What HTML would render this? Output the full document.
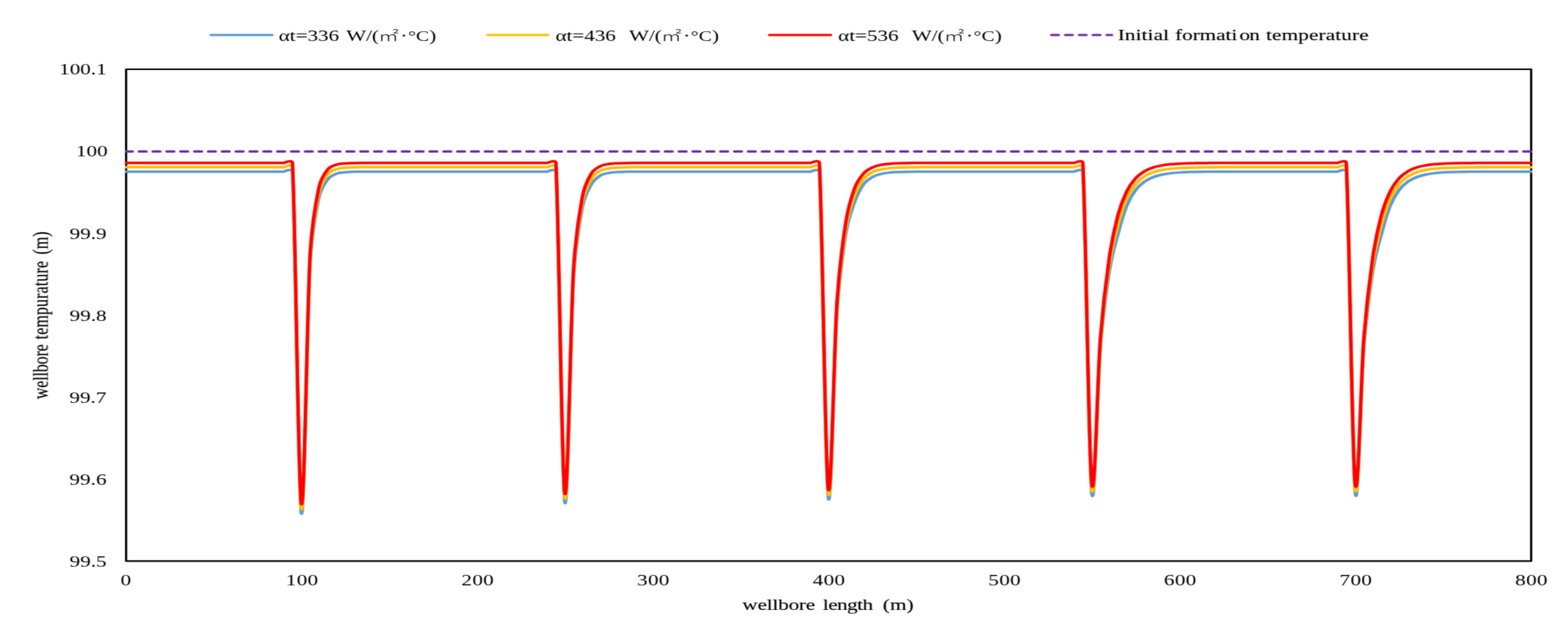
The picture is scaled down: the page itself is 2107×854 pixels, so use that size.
<!DOCTYPE html>
<html lang="en"><head><meta charset="utf-8"><title>Wellbore temperature chart</title>
<style>html,body{margin:0;padding:0;background:#fff;}body{width:2107px;height:854px;overflow:hidden;}svg{display:block;}text{font-family:"Liberation Serif","Noto Sans CJK SC",serif;font-size:21.33px;fill:#000000;stroke:#000000;stroke-width:0.15px;}.cjk{font-family:"Noto Sans CJK SC","Liberation Serif",sans-serif;font-weight:300;stroke:none;}.tick{stroke:none;}</style></head><body>
<svg width="2107" height="854" viewBox="0 0 2107 854">
<defs><filter id="soft" x="0" y="0" width="2107" height="854" filterUnits="userSpaceOnUse" color-interpolation-filters="sRGB"><feConvolveMatrix order="3" kernelMatrix="0.0240 0.0720 0.0240 0.1520 0.4560 0.1520 0.0240 0.0720 0.0240" divisor="1" edgeMode="duplicate" preserveAlpha="false"/></filter></defs>
<rect x="0" y="0" width="2107" height="854" fill="#ffffff"/>
<g filter="url(#soft)">
<g transform="scale(1.3350 1)">
<rect x="126.93" y="93.00" width="1414.27" height="660.45" fill="none" stroke="#000" stroke-width="2.20" stroke-linejoin="round"/>
<g fill="none" stroke-linejoin="round" stroke-linecap="butt" stroke-width="3.50">
<path stroke="#5B9BD5" d="M125.83 230.40 L126.48 230.40L135.32 230.40L144.16 230.40L153.00 230.40L161.84 230.40L170.68 230.40L179.51 230.40L188.35 230.40L197.19 230.40L206.03 230.40L214.87 230.40L223.71 230.40L232.55 230.40L241.39 230.40L250.23 230.40L259.07 230.40L267.91 230.40L276.75 230.40L285.58 230.40C285.58 230.40 294.23 225.28 294.42 230.40C297.37 306.79 300.32 668.13 303.26 688.72C306.21 709.31 309.16 424.48 312.10 353.92C313.96 309.46 318.00 284.15 320.94 265.36C322.94 252.63 326.83 246.51 329.78 241.17C332.64 235.99 335.67 234.97 338.62 233.30C341.57 231.64 344.51 231.63 347.46 231.18C350.41 230.73 353.35 230.73 356.30 230.61C359.24 230.49 362.19 230.49 365.14 230.46C368.08 230.42 371.03 230.42 373.98 230.42C376.92 230.41 379.87 230.41 382.82 230.40L391.65 230.40L400.49 230.40L409.33 230.40L418.17 230.40L427.01 230.40L435.85 230.40L444.69 230.40L453.53 230.40L462.37 230.40L471.21 230.40L480.05 230.40L488.89 230.40L497.73 230.40L506.56 230.40L515.40 230.40L524.24 230.40L533.08 230.40L541.92 230.40L550.76 230.40C550.76 230.40 559.40 225.28 559.60 230.40C562.55 304.33 565.49 650.22 568.44 673.99C571.39 697.77 574.33 438.94 577.28 373.03C579.40 325.63 583.17 299.38 586.12 278.55C588.34 262.85 592.01 255.17 594.96 248.10C597.82 241.21 600.85 238.73 603.80 236.09C606.74 233.45 609.69 233.08 612.63 232.23C615.58 231.38 618.53 231.26 621.47 230.99C624.42 230.71 627.37 230.68 630.31 230.59C633.26 230.50 636.21 230.49 639.15 230.46C642.10 230.43 645.04 230.43 647.99 230.42C650.94 230.41 653.88 230.41 656.83 230.41L665.67 230.40L674.51 230.40L683.35 230.40L692.19 230.40L701.03 230.40L709.87 230.40L718.70 230.40L727.54 230.40L736.38 230.40L745.22 230.40L754.06 230.40L762.90 230.40L771.74 230.40L780.58 230.40L789.42 230.40L798.26 230.40L807.10 230.40L815.94 230.40C815.94 230.40 824.57 225.28 824.78 230.40C827.72 303.28 830.67 636.51 833.61 667.69C836.56 698.87 839.51 476.37 842.45 417.50C845.04 365.85 848.35 338.79 851.29 314.46C853.93 292.69 857.19 282.58 860.13 271.50C863.08 260.42 866.02 253.58 868.97 247.99C871.92 242.39 874.86 240.32 877.81 237.92C880.76 235.53 883.70 234.64 886.65 233.62C889.60 232.60 892.54 232.22 895.49 231.78C898.43 231.34 901.38 231.18 904.33 230.99C907.27 230.80 910.22 230.73 913.17 230.65C916.11 230.57 919.06 230.54 922.01 230.51C924.95 230.47 927.90 230.46 930.85 230.45C933.79 230.43 936.74 230.43 939.68 230.42C942.63 230.41 945.58 230.41 948.52 230.41L957.36 230.40L966.20 230.40L975.04 230.40L983.88 230.40L992.72 230.40L1001.56 230.40L1010.40 230.40L1019.24 230.40L1028.08 230.40L1036.92 230.40L1045.75 230.40L1054.59 230.40L1063.43 230.40L1072.27 230.40L1081.11 230.40C1081.11 230.40 1089.74 225.28 1089.95 230.40C1092.90 302.09 1095.84 621.39 1098.79 660.53C1101.74 699.67 1104.68 514.50 1107.63 465.25C1110.58 416.00 1113.52 390.18 1116.47 365.04C1119.41 339.90 1122.36 329.21 1125.31 314.41C1128.25 299.62 1131.20 286.10 1134.15 276.27C1137.09 266.44 1140.04 260.81 1142.99 255.45C1145.93 250.08 1148.88 247.00 1151.82 244.07C1154.77 241.14 1157.72 239.47 1160.66 237.87C1163.61 236.27 1166.56 235.35 1169.50 234.48C1172.45 233.60 1175.40 233.10 1178.34 232.63C1181.29 232.15 1184.24 231.88 1187.18 231.62C1190.13 231.35 1193.07 231.21 1196.02 231.06C1198.97 230.92 1201.91 230.84 1204.86 230.76C1207.81 230.68 1210.75 230.64 1213.70 230.60C1216.65 230.56 1219.59 230.53 1222.54 230.51C1225.48 230.48 1228.43 230.47 1231.38 230.46C1234.32 230.45 1237.27 230.44 1240.22 230.43C1243.16 230.43 1246.11 230.42 1249.06 230.42C1252.00 230.41 1254.95 230.41 1257.90 230.41L1266.73 230.41L1275.57 230.40L1284.41 230.40L1293.25 230.40L1302.09 230.40L1310.93 230.40L1319.77 230.40L1328.61 230.40L1337.45 230.40L1346.29 230.40C1346.29 230.40 1354.92 225.28 1355.13 230.40C1358.07 302.05 1361.02 621.21 1363.97 660.33C1366.91 699.45 1369.86 514.37 1372.80 465.14C1375.75 415.91 1378.70 390.10 1381.64 364.98C1384.59 339.85 1387.54 329.16 1390.48 314.37C1393.43 299.59 1396.38 286.07 1399.32 276.25C1402.27 266.43 1405.21 260.80 1408.16 255.43C1411.11 250.07 1414.05 247.00 1417.00 244.07C1419.95 241.14 1422.89 239.46 1425.84 237.86C1428.79 236.26 1431.73 235.35 1434.68 234.47C1437.63 233.60 1440.57 233.10 1443.52 232.62C1446.46 232.15 1449.41 231.87 1452.36 231.61C1455.30 231.35 1458.25 231.21 1461.20 231.06C1464.14 230.92 1467.09 230.84 1470.04 230.76C1472.98 230.68 1475.93 230.64 1478.87 230.60C1481.82 230.56 1484.77 230.53 1487.71 230.51C1490.66 230.48 1493.61 230.47 1496.55 230.46C1499.50 230.45 1502.45 230.44 1505.39 230.43C1508.34 230.43 1511.29 230.42 1514.23 230.42C1517.18 230.41 1520.12 230.41 1523.07 230.41L1531.91 230.41L1540.75 230.40L1542.30 230.40"/>
<path stroke="#FFC000" d="M125.83 224.55 L126.48 224.55L135.32 224.55L144.16 224.55L153.00 224.55L161.84 224.55L170.68 224.55L179.51 224.55L188.35 224.55L197.19 224.55L206.03 224.55L214.87 224.55L223.71 224.55L232.55 224.55L241.39 224.55L250.23 224.55L259.07 224.55L267.91 224.55L276.75 224.55L285.58 224.55C285.58 224.55 294.23 219.43 294.42 224.55C297.37 300.90 300.32 662.04 303.26 682.62C306.21 703.20 309.16 418.67 312.10 348.01C313.97 303.15 318.00 277.59 320.94 258.65C322.93 245.91 326.83 239.66 329.78 234.41C332.57 229.44 335.67 228.73 338.62 227.21C341.57 225.68 344.51 225.68 347.46 225.27C350.41 224.86 353.35 224.85 356.30 224.74C359.24 224.63 362.19 224.63 365.14 224.60C368.08 224.57 371.03 224.57 373.98 224.56C376.92 224.56 379.87 224.56 382.82 224.55L391.65 224.55L400.49 224.55L409.33 224.55L418.17 224.55L427.01 224.55L435.85 224.55L444.69 224.55L453.53 224.55L462.37 224.55L471.21 224.55L480.05 224.55L488.89 224.55L497.73 224.55L506.56 224.55L515.40 224.55L524.24 224.55L533.08 224.55L541.92 224.55L550.76 224.55C550.76 224.55 559.40 219.43 559.60 224.55C562.55 298.44 565.49 644.14 568.44 667.89C571.39 691.65 574.33 433.16 577.28 367.10C579.42 319.16 583.17 292.59 586.12 271.53C588.34 255.68 592.01 247.72 594.96 240.76C597.71 234.26 600.85 232.19 603.80 229.76C606.74 227.34 609.69 227.00 612.63 226.23C615.58 225.45 618.53 225.34 621.47 225.09C624.42 224.84 627.37 224.80 630.31 224.72C633.26 224.64 636.21 224.63 639.15 224.61C642.10 224.58 645.04 224.58 647.99 224.57C650.94 224.56 653.88 224.56 656.83 224.56L665.67 224.55L674.51 224.55L683.35 224.55L692.19 224.55L701.03 224.55L709.87 224.55L718.70 224.55L727.54 224.55L736.38 224.55L745.22 224.55L754.06 224.55L762.90 224.55L771.74 224.55L780.58 224.55L789.42 224.55L798.26 224.55L807.10 224.55L815.94 224.55C815.94 224.55 824.57 219.43 824.78 224.55C827.72 297.42 830.67 630.60 833.61 661.78C836.56 692.96 839.51 470.83 842.45 411.63C845.07 358.99 848.35 331.50 851.29 306.60C853.95 284.13 857.19 273.21 860.13 262.22C863.08 251.24 866.02 245.80 868.97 240.67C871.92 235.54 874.86 233.64 877.81 231.45C880.76 229.25 883.70 228.44 886.65 227.50C889.60 226.56 892.54 226.21 895.49 225.81C898.43 225.41 901.38 225.26 904.33 225.09C907.27 224.92 910.22 224.85 913.17 224.78C916.11 224.71 919.06 224.68 922.01 224.65C924.95 224.62 927.90 224.61 930.85 224.59C933.79 224.58 936.74 224.57 939.68 224.57C942.63 224.56 945.58 224.56 948.52 224.56L957.36 224.55L966.20 224.55L975.04 224.55L983.88 224.55L992.72 224.55L1001.56 224.55L1010.40 224.55L1019.24 224.55L1028.08 224.55L1036.92 224.55L1045.75 224.55L1054.59 224.55L1063.43 224.55L1072.27 224.55L1081.11 224.55C1081.11 224.55 1089.74 219.43 1089.95 224.55C1092.90 296.19 1095.84 615.30 1098.79 654.42C1101.74 693.53 1104.68 509.01 1107.63 459.25C1110.58 409.50 1113.52 382.19 1116.47 355.90C1119.41 329.61 1122.36 316.40 1125.31 301.51C1128.25 286.63 1131.20 275.58 1134.15 266.57C1137.09 257.57 1140.04 252.41 1142.99 247.49C1145.93 242.58 1148.88 239.76 1151.82 237.08C1154.77 234.39 1157.72 232.86 1160.66 231.39C1163.61 229.92 1166.56 229.08 1169.50 228.28C1172.45 227.48 1175.40 227.03 1178.34 226.59C1181.29 226.15 1184.24 225.90 1187.18 225.66C1190.13 225.42 1193.07 225.29 1196.02 225.16C1198.97 225.03 1201.91 224.95 1204.86 224.88C1207.81 224.81 1210.75 224.77 1213.70 224.73C1216.65 224.69 1219.59 224.67 1222.54 224.65C1225.48 224.63 1228.43 224.62 1231.38 224.60C1234.32 224.59 1237.27 224.59 1240.22 224.58C1243.16 224.57 1246.11 224.57 1249.06 224.57C1252.00 224.56 1254.95 224.56 1257.90 224.56L1266.73 224.55L1275.57 224.55L1284.41 224.55L1293.25 224.55L1302.09 224.55L1310.93 224.55L1319.77 224.55L1328.61 224.55L1337.45 224.55L1346.29 224.55C1346.29 224.55 1354.92 219.43 1355.13 224.55C1358.07 296.19 1361.02 615.30 1363.97 654.42C1366.91 693.53 1369.86 509.01 1372.80 459.25C1375.75 409.50 1378.70 382.19 1381.64 355.90C1384.59 329.61 1387.54 316.40 1390.48 301.51C1393.43 286.63 1396.38 275.58 1399.32 266.57C1402.27 257.57 1405.21 252.41 1408.16 247.49C1411.11 242.58 1414.05 239.76 1417.00 237.08C1419.95 234.39 1422.89 232.86 1425.84 231.39C1428.79 229.92 1431.73 229.08 1434.68 228.28C1437.63 227.48 1440.57 227.03 1443.52 226.59C1446.46 226.15 1449.41 225.90 1452.36 225.66C1455.30 225.42 1458.25 225.29 1461.20 225.16C1464.14 225.03 1467.09 224.95 1470.04 224.88C1472.98 224.81 1475.93 224.77 1478.87 224.73C1481.82 224.69 1484.77 224.67 1487.71 224.65C1490.66 224.63 1493.61 224.62 1496.55 224.60C1499.50 224.59 1502.45 224.59 1505.39 224.58C1508.34 224.57 1511.29 224.57 1514.23 224.57C1517.18 224.56 1520.12 224.56 1523.07 224.56L1531.91 224.55L1540.75 224.55L1542.30 224.55"/>
<path stroke="#FF0000" d="M125.83 218.75 L126.48 218.75L135.32 218.75L144.16 218.75L153.00 218.75L161.84 218.75L170.68 218.75L179.51 218.75L188.35 218.75L197.19 218.75L206.03 218.75L214.87 218.75L223.71 218.75L232.55 218.75L241.39 218.75L250.23 218.75L259.07 218.75L267.91 218.75L276.75 218.75L285.58 218.75C285.58 218.75 294.23 213.63 294.42 218.75C297.37 294.96 300.32 655.48 303.26 676.02C306.21 696.56 309.16 412.67 312.10 341.99C313.99 296.80 318.00 271.01 320.94 251.96C322.92 239.20 326.83 232.84 329.78 227.70C332.52 222.93 335.67 222.55 338.62 221.16C341.57 219.78 344.51 219.77 347.46 219.40C350.41 219.03 353.35 219.03 356.30 218.93C359.24 218.82 362.19 218.82 365.14 218.80C368.08 218.77 371.03 218.77 373.98 218.76C376.92 218.76 379.87 218.76 382.82 218.75L391.65 218.75L400.49 218.75L409.33 218.75L418.17 218.75L427.01 218.75L435.85 218.75L444.69 218.75L453.53 218.75L462.37 218.75L471.21 218.75L480.05 218.75L488.89 218.75L497.73 218.75L506.56 218.75L515.40 218.75L524.24 218.75L533.08 218.75L541.92 218.75L550.76 218.75C550.76 218.75 559.40 213.63 559.60 218.75C562.55 292.59 565.49 638.05 568.44 661.79C571.39 685.54 574.33 427.41 577.28 361.20C579.44 312.73 583.17 285.84 586.12 264.55C588.33 248.55 592.01 240.32 594.96 233.48C597.59 227.35 600.85 225.69 603.80 223.49C606.74 221.28 609.69 220.98 612.63 220.27C615.58 219.56 618.53 219.47 621.47 219.24C624.42 219.01 627.37 218.98 630.31 218.91C633.26 218.83 636.21 218.82 639.15 218.80C642.10 218.78 645.04 218.77 647.99 218.77C650.94 218.76 653.88 218.76 656.83 218.76L665.67 218.75L674.51 218.75L683.35 218.75L692.19 218.75L701.03 218.75L709.87 218.75L718.70 218.75L727.54 218.75L736.38 218.75L745.22 218.75L754.06 218.75L762.90 218.75L771.74 218.75L780.58 218.75L789.42 218.75L798.26 218.75L807.10 218.75L815.94 218.75C815.94 218.75 824.57 213.63 824.78 218.75C827.72 291.51 830.67 624.15 833.61 655.28C836.56 686.41 839.51 464.96 842.45 405.53C845.11 351.98 848.35 324.10 851.29 298.67C853.97 275.54 857.19 263.82 860.13 252.94C862.94 242.58 866.02 238.04 868.97 233.38C871.92 228.72 874.86 227.00 877.81 225.01C880.76 223.02 883.70 222.28 886.65 221.43C889.60 220.58 892.54 220.26 895.49 219.90C898.43 219.53 901.38 219.40 904.33 219.24C907.27 219.08 910.22 219.03 913.17 218.96C916.11 218.89 919.06 218.87 922.01 218.84C924.95 218.81 927.90 218.80 930.85 218.79C933.79 218.78 936.74 218.77 939.68 218.77C942.63 218.76 945.58 218.76 948.52 218.76L957.36 218.75L966.20 218.75L975.04 218.75L983.88 218.75L992.72 218.75L1001.56 218.75L1010.40 218.75L1019.24 218.75L1028.08 218.75L1036.92 218.75L1045.75 218.75L1054.59 218.75L1063.43 218.75L1072.27 218.75L1081.11 218.75C1081.11 218.75 1089.74 213.63 1089.95 218.75C1092.90 290.31 1095.84 609.04 1098.79 648.11C1101.74 687.18 1104.68 503.40 1107.63 453.18C1110.58 402.95 1113.52 374.17 1116.47 346.75C1119.41 319.32 1122.36 303.61 1125.31 288.64C1128.25 273.66 1131.20 265.08 1134.15 256.91C1137.09 248.73 1140.04 244.05 1142.99 239.58C1145.93 235.12 1148.88 232.56 1151.82 230.13C1154.77 227.69 1157.72 226.29 1160.66 224.96C1163.61 223.63 1166.56 222.87 1169.50 222.14C1172.45 221.41 1175.40 221.00 1178.34 220.60C1181.29 220.20 1184.24 219.98 1187.18 219.76C1190.13 219.54 1193.07 219.42 1196.02 219.30C1198.97 219.18 1201.91 219.12 1204.86 219.05C1207.81 218.99 1210.75 218.95 1213.70 218.91C1216.65 218.88 1219.59 218.86 1222.54 218.84C1225.48 218.82 1228.43 218.81 1231.38 218.80C1234.32 218.79 1237.27 218.78 1240.22 218.78C1243.16 218.77 1246.11 218.77 1249.06 218.76C1252.00 218.76 1254.95 218.76 1257.90 218.76L1266.73 218.75L1275.57 218.75L1284.41 218.75L1293.25 218.75L1302.09 218.75L1310.93 218.75L1319.77 218.75L1328.61 218.75L1337.45 218.75L1346.29 218.75C1346.29 218.75 1354.92 213.63 1355.13 218.75C1358.07 290.31 1361.02 609.04 1363.97 648.11C1366.91 687.18 1369.86 503.40 1372.80 453.18C1375.75 402.95 1378.70 374.17 1381.64 346.75C1384.59 319.32 1387.54 303.61 1390.48 288.64C1393.43 273.66 1396.38 265.08 1399.32 256.91C1402.27 248.73 1405.21 244.05 1408.16 239.58C1411.11 235.12 1414.05 232.56 1417.00 230.13C1419.95 227.69 1422.89 226.29 1425.84 224.96C1428.79 223.63 1431.73 222.87 1434.68 222.14C1437.63 221.41 1440.57 221.00 1443.52 220.60C1446.46 220.20 1449.41 219.98 1452.36 219.76C1455.30 219.54 1458.25 219.42 1461.20 219.30C1464.14 219.18 1467.09 219.12 1470.04 219.05C1472.98 218.99 1475.93 218.95 1478.87 218.91C1481.82 218.88 1484.77 218.86 1487.71 218.84C1490.66 218.82 1493.61 218.81 1496.55 218.80C1499.50 218.79 1502.45 218.78 1505.39 218.78C1508.34 218.77 1511.29 218.77 1514.23 218.76C1517.18 218.76 1520.12 218.76 1523.07 218.76L1531.91 218.75L1540.75 218.75L1542.30 218.75"/>
</g>
<clipPath id="pc"><rect x="125.83" y="190" width="1416.47" height="30"/></clipPath>
<line clip-path="url(#pc)" x1="126.17" y1="203.40" x2="1547.30" y2="203.40" stroke="#7030A0" stroke-width="3.20" stroke-dasharray="7.062 6.873" stroke-linecap="round"/>
<text class="tick" x="107.46" y="99.85" text-anchor="end">100.1</text>
<text class="tick" x="108.46" y="209.92" text-anchor="end">100</text>
<text class="tick" x="107.34" y="320.65" text-anchor="end">99.9</text>
<text class="tick" x="107.34" y="430.73" text-anchor="end">99.8</text>
<text class="tick" x="107.09" y="540.80" text-anchor="end">99.7</text>
<text class="tick" x="107.22" y="650.88" text-anchor="end">99.6</text>
<text class="tick" x="107.34" y="760.95" text-anchor="end">99.5</text>
<text class="tick" x="126.63" y="786.30" text-anchor="middle" letter-spacing="0.00">0</text>
<text class="tick" x="304.09" y="786.30" text-anchor="middle" letter-spacing="0.30">100</text>
<text class="tick" x="480.87" y="786.30" text-anchor="middle" letter-spacing="0.30">200</text>
<text class="tick" x="657.65" y="786.30" text-anchor="middle" letter-spacing="0.30">300</text>
<text class="tick" x="834.44" y="786.30" text-anchor="middle" letter-spacing="0.30">400</text>
<text class="tick" x="1011.22" y="786.30" text-anchor="middle" letter-spacing="0.30">500</text>
<text class="tick" x="1188.01" y="786.30" text-anchor="middle" letter-spacing="0.30">600</text>
<text class="tick" x="1364.79" y="786.30" text-anchor="middle" letter-spacing="0.30">700</text>
<text class="tick" x="1541.57" y="786.30" text-anchor="middle" letter-spacing="0.30">800</text>
<text y="818.9"><tspan x="747.27" textLength="73.33">wellbore</tspan> <tspan x="828.24" textLength="50.57">length</tspan> <tspan x="888.59" textLength="31.06">(m)</tspan></text>
<text transform="translate(48.46 0) rotate(-90)" y="0"><tspan x="-536.00" textLength="73.84">wellbore</tspan> <tspan x="-455.65" textLength="105.14">tempurature</tspan> <tspan x="-341.80" textLength="31.02">(m)</tspan></text>
<line x1="212.31" y1="47" x2="273.98" y2="47" stroke="#5B9BD5" stroke-width="3.2" stroke-linecap="round"/>
<text class="tick" y="55.35"><tspan x="280.55" textLength="60.82">αt=336</tspan> <tspan x="348.54" textLength="32.87">W/(</tspan></text>
<text class="cjk" transform="translate(380.63 55.35) scale(1.1514 1)" style="font-size:18.00px">㎡</text>
<text class="tick" y="55.35"><tspan x="403.07">·</tspan><tspan x="410.77" textLength="21.06" font-size="19.60">°C</tspan><tspan x="431.98">)</tspan></text>
<line x1="490.96" y1="47" x2="551.51" y2="47" stroke="#FFC000" stroke-width="3.2" stroke-linecap="round"/>
<text class="tick" y="55.35"><tspan x="559.12" textLength="60.75">αt=436</tspan> <tspan x="633.18" textLength="32.87">W/(</tspan></text>
<text class="cjk" transform="translate(665.28 55.35) scale(1.1514 1)" style="font-size:18.00px">㎡</text>
<text class="tick" y="55.35"><tspan x="687.71">·</tspan><tspan x="695.41" textLength="21.06" font-size="19.60">°C</tspan><tspan x="716.63">)</tspan></text>
<line x1="774.48" y1="47" x2="836.15" y2="47" stroke="#FF0000" stroke-width="3.2" stroke-linecap="round"/>
<text class="tick" y="55.35"><tspan x="843.69" textLength="60.82">αt=536</tspan> <tspan x="917.83" textLength="32.87">W/(</tspan></text>
<text class="cjk" transform="translate(949.92 55.35) scale(1.1514 1)" style="font-size:18.00px">㎡</text>
<text class="tick" y="55.35"><tspan x="972.36">·</tspan><tspan x="980.05" textLength="21.06" font-size="19.60">°C</tspan><tspan x="1001.27">)</tspan></text>
<line x1="1058.45" y1="47.0" x2="1119.00" y2="47.0" stroke="#7030A0" stroke-width="3.20" stroke-dasharray="7.062 6.873" stroke-linecap="round"/>
<text y="54.1"><tspan x="1125.09" textLength="51.60">Initial</tspan> <tspan x="1182.82" textLength="62.60">formati</tspan><tspan x="1247.51" textLength="20.60">on</tspan> <tspan x="1274.36" textLength="103.21">temperature</tspan></text>
</g></g>
</svg></body></html>
